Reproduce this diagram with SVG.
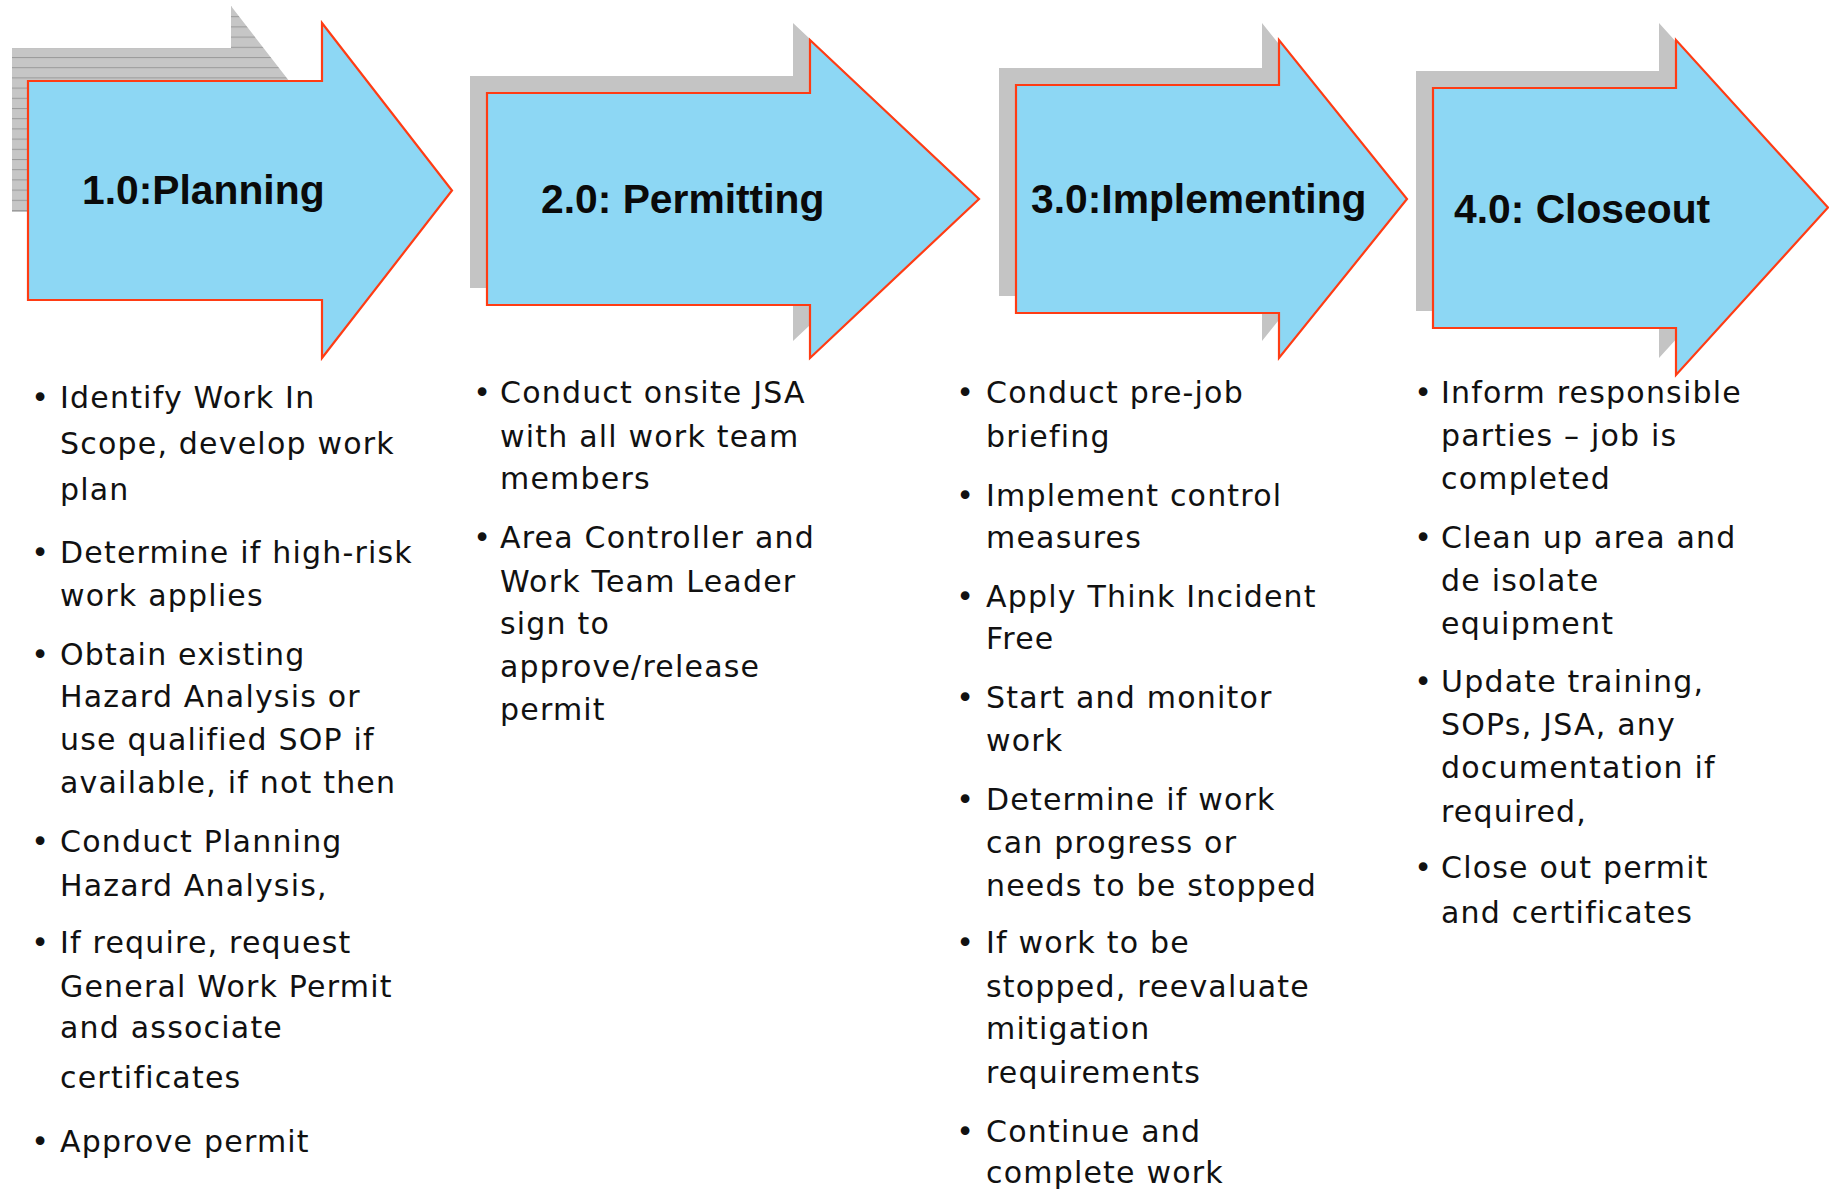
<svg xmlns="http://www.w3.org/2000/svg" width="1829" height="1190" viewBox="0 0 1829 1190">
<style>
.arrow{fill:#8dd7f4;stroke:#ff3c14;stroke-width:2.2;stroke-linejoin:miter}
.shadow{fill:#c4c4c4}
.title{font-family:"Liberation Sans",Arial,sans-serif;font-weight:bold;font-size:40.8px;fill:#0a0a0a}
.item{font-family:"DejaVu Sans",Verdana,sans-serif;font-size:30px;fill:#111;letter-spacing:1.2px}
.bul{font-family:"DejaVu Sans",Verdana,sans-serif;font-size:30px;fill:#111;text-anchor:middle}
</style>
<defs>
<pattern id="stripes" patternUnits="userSpaceOnUse" x="0" y="6" width="8" height="10.2">
<rect width="8" height="10.2" fill="#c6c6c6"/>
<line x1="0" y1="0.5" x2="8" y2="0.5" stroke="#9a9a9a" stroke-width="1"/>
</pattern>
</defs>
<rect width="1829" height="1190" fill="#ffffff"/>

<g id="stage1">
<polygon fill="url(#stripes)" points="12,48 231,48 231,6 300,95 300,212 12,212"/>
<polygon class="arrow" points="28,81 322,81 322,23 452,190.5 322,358 322,300 28,300"/>
<text class="title" x="82" y="204">1.0:Planning</text>
<text class="bul" x="40" y="408">•</text>
<text class="item" x="60" y="408">Identify Work In</text>
<text class="item" x="60" y="454">Scope, develop work</text>
<text class="item" x="60" y="500">plan</text>
<text class="bul" x="40" y="563">•</text>
<text class="item" x="60" y="563">Determine if high-risk</text>
<text class="item" x="60" y="606">work applies</text>
<text class="bul" x="40" y="665">•</text>
<text class="item" x="60" y="665">Obtain existing</text>
<text class="item" x="60" y="707">Hazard Analysis or</text>
<text class="item" x="60" y="750">use qualified SOP if</text>
<text class="item" x="60" y="793">available, if not then</text>
<text class="bul" x="40" y="852">•</text>
<text class="item" x="60" y="852">Conduct Planning</text>
<text class="item" x="60" y="896">Hazard Analysis,</text>
<text class="bul" x="40" y="953">•</text>
<text class="item" x="60" y="953">If require, request</text>
<text class="item" x="60" y="997">General Work Permit</text>
<text class="item" x="60" y="1038">and associate</text>
<text class="item" x="60" y="1088">certificates</text>
<text class="bul" x="40" y="1152">•</text>
<text class="item" x="60" y="1152">Approve permit</text>
</g>

<g id="stage2">
<polygon class="shadow" points="470,76 793,76 793,23 962,182 793,341 793,288 470,288"/>
<polygon class="arrow" points="487,93 810,93 810,40 979,199 810,358 810,305 487,305"/>
<text class="title" x="541" y="213">2.0: Permitting</text>
<text class="bul" x="482" y="403">•</text>
<text class="item" x="500" y="403">Conduct onsite JSA</text>
<text class="item" x="500" y="447">with all work team</text>
<text class="item" x="500" y="489">members</text>
<text class="bul" x="482" y="548">•</text>
<text class="item" x="500" y="548">Area Controller and</text>
<text class="item" x="500" y="592">Work Team Leader</text>
<text class="item" x="500" y="634">sign to</text>
<text class="item" x="500" y="677">approve/release</text>
<text class="item" x="500" y="720">permit</text>
</g>

<g id="stage3">
<polygon class="shadow" points="999,68 1262,68 1262,23 1390,182 1262,341 1262,296 999,296"/>
<polygon class="arrow" points="1016,85 1279,85 1279,40 1407,199 1279,358 1279,313 1016,313"/>
<text class="title" x="1031" y="213">3.0:Implementing</text>
<text class="bul" x="965" y="403">•</text>
<text class="item" x="986" y="403">Conduct pre-job</text>
<text class="item" x="986" y="447">briefing</text>
<text class="bul" x="965" y="506">•</text>
<text class="item" x="986" y="506">Implement control</text>
<text class="item" x="986" y="548">measures</text>
<text class="bul" x="965" y="607">•</text>
<text class="item" x="986" y="607">Apply Think Incident</text>
<text class="item" x="986" y="649">Free</text>
<text class="bul" x="965" y="708">•</text>
<text class="item" x="986" y="708">Start and monitor</text>
<text class="item" x="986" y="751">work</text>
<text class="bul" x="965" y="810">•</text>
<text class="item" x="986" y="810">Determine if work</text>
<text class="item" x="986" y="853">can progress or</text>
<text class="item" x="986" y="896">needs to be stopped</text>
<text class="bul" x="965" y="953">•</text>
<text class="item" x="986" y="953">If work to be</text>
<text class="item" x="986" y="997">stopped, reevaluate</text>
<text class="item" x="986" y="1039">mitigation</text>
<text class="item" x="986" y="1083">requirements</text>
<text class="bul" x="965" y="1142">•</text>
<text class="item" x="986" y="1142">Continue and</text>
<text class="item" x="986" y="1183">complete work</text>
</g>

<g id="stage4">
<polygon class="shadow" points="1416,71 1659,71 1659,23 1811,191 1659,358 1659,311 1416,311"/>
<polygon class="arrow" points="1433,88 1676,88 1676,40 1828,207.5 1676,375 1676,328 1433,328"/>
<text class="title" x="1454" y="223">4.0: Closeout</text>
<text class="bul" x="1423" y="403">•</text>
<text class="item" x="1441" y="403">Inform responsible</text>
<text class="item" x="1441" y="446">parties – job is</text>
<text class="item" x="1441" y="489">completed</text>
<text class="bul" x="1423" y="548">•</text>
<text class="item" x="1441" y="548">Clean up area and</text>
<text class="item" x="1441" y="591">de isolate</text>
<text class="item" x="1441" y="634">equipment</text>
<text class="bul" x="1423" y="692">•</text>
<text class="item" x="1441" y="692">Update training,</text>
<text class="item" x="1441" y="735">SOPs, JSA, any</text>
<text class="item" x="1441" y="778">documentation if</text>
<text class="item" x="1441" y="822">required,</text>
<text class="bul" x="1423" y="878">•</text>
<text class="item" x="1441" y="878">Close out permit</text>
<text class="item" x="1441" y="923">and certificates</text>
</g>

<g id="connectors"></g>
</svg>
